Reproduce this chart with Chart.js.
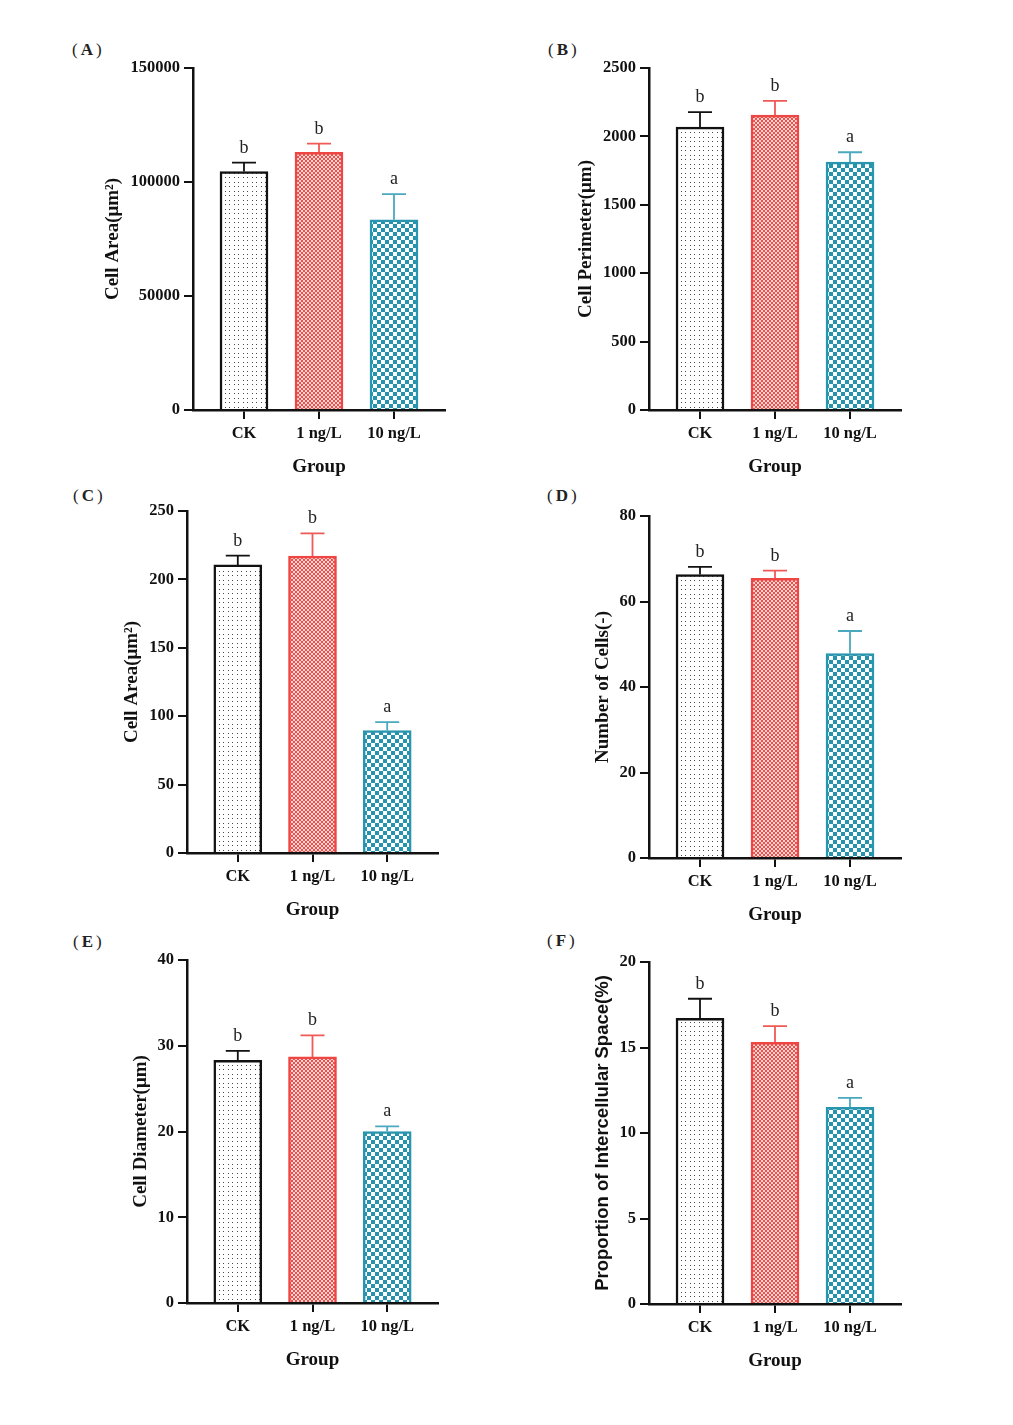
<!DOCTYPE html>
<html>
<head>
<meta charset="utf-8">
<script src="https://cdn.jsdelivr.net/npm/chart.js@4.4.0/dist/chart.umd.min.js"></script>
<style>
  html, body { margin: 0; padding: 0; background: #fff; }
  body { width: 1013px; height: 1425px; position: relative; overflow: hidden; }
  canvas.panel { position: absolute; }
  .lab { position: absolute; font-family: "Liberation Serif", "Times New Roman", serif; font-size: 17px; line-height: 20px; color: #222; letter-spacing: 3px; white-space: nowrap; }
  .lab b { font-weight: bold; }
</style>
</head>
<body>
<div class="lab" style="left:72px;top:40px">(<b>A</b>)</div>
<div class="lab" style="left:548px;top:40px">(<b>B</b>)</div>
<div class="lab" style="left:73px;top:486px">(<b>C</b>)</div>
<div class="lab" style="left:547px;top:486px">(<b>D</b>)</div>
<div class="lab" style="left:73px;top:932px">(<b>E</b>)</div>
<div class="lab" style="left:547px;top:931px">(<b>F</b>)</div>

<canvas class="panel" id="cA"></canvas>
<canvas class="panel" id="cB"></canvas>
<canvas class="panel" id="cC"></canvas>
<canvas class="panel" id="cD"></canvas>
<canvas class="panel" id="cE"></canvas>
<canvas class="panel" id="cF"></canvas>

<script>
// ---------------- DATA ----------------
const groups = ['CK', '1 ng/L', '10 ng/L'];
const sigLetters = ['b', 'b', 'a'];

const cellAreaA = [104600, 113000, 83400];
const cellAreaAErr = [3900, 3800, 11300];
const yTicksA = [0, 50000, 100000, 150000];

const cellPerimeter = [2068, 2155, 1812];
const cellPerimeterErr = [110, 105, 72];
const yTicksB = [0, 500, 1000, 1500, 2000, 2500];

const cellAreaC = [210.6, 217.1, 89.5];
const cellAreaCErr = [6.8, 16.6, 6.2];
const yTicksC = [0, 50, 100, 150, 200, 250];

const cellNumber = [66.3, 65.4, 47.8];
const cellNumberErr = [1.8, 1.8, 5.3];
const yTicksD = [0, 20, 40, 60, 80];

const cellDiameter = [28.3, 28.7, 20.0];
const cellDiameterErr = [1.1, 2.5, 0.6];
const yTicksE = [0, 10, 20, 30, 40];

const spaceProportion = [16.7, 15.3, 11.5];
const spaceProportionErr = [1.15, 0.95, 0.55];
const yTicksF = [0, 5, 10, 15, 20];

// ---------------- STYLE ----------------
const SERIF = '"Liberation Serif", "Times New Roman", serif';
const SANS = '"Liberation Sans", Arial, sans-serif';
Chart.defaults.font.family = SERIF;
Chart.defaults.color = '#111';

function makePattern(size, draw) {
  const c = document.createElement('canvas');
  c.width = size; c.height = size;
  const g = c.getContext('2d');
  draw(g);
  return g.createPattern(c, 'repeat');
}
const patCK = makePattern(9, g => {
  g.fillStyle = '#ffffff'; g.fillRect(0, 0, 9, 9);
  [[1,1],[5,1],[1,5],[5,5]].forEach(([x,y]) => {
    g.fillStyle = '#4a4a4a'; g.fillRect(x, y, 1, 1);
  });
});
const patRed = makePattern(4, g => {
  g.fillStyle = '#fbd6d4'; g.fillRect(0, 0, 4, 4);
  g.fillStyle = '#ef4f4b'; g.fillRect(0, 0, 2, 2); g.fillRect(2, 2, 2, 2);
});
const patTeal = makePattern(8, g => {
  g.fillStyle = '#ffffff'; g.fillRect(0, 0, 8, 8);
  g.fillStyle = '#2593ad'; g.fillRect(0, 0, 4, 4); g.fillRect(4, 4, 4, 4);
});
const fills = [patCK, patRed, patTeal];
const borders = ['#111111', '#ee4642', '#2a95ae'];
const errColors = ['#111111', '#ef5a56', '#4aa8bf'];

const errPlugin = {
  id: 'errLetters',
  afterDatasetsDraw(chart, args, opts) {
    const ctx = chart.ctx, x = chart.scales.x, y = chart.scales.y;
    const data = chart.data.datasets[0].data;
    ctx.save();
    data.forEach((d, i) => {
      const px = x.getPixelForValue(d.x);
      const yb = y.getPixelForValue(d.y);
      const yt = y.getPixelForValue(d.y + opts.errors[i]);
      ctx.strokeStyle = errColors[i];
      ctx.lineWidth = 1.8;
      ctx.beginPath();
      ctx.moveTo(px, yb); ctx.lineTo(px, yt);
      ctx.moveTo(px - 12, yt); ctx.lineTo(px + 12, yt);
      ctx.stroke();
      ctx.fillStyle = '#222';
      ctx.font = '18px ' + SERIF;
      ctx.textAlign = 'center';
      ctx.textBaseline = 'alphabetic';
      ctx.fillText(opts.letters[i], px, yt - 10);
    });
    ctx.restore();
  }
};

const panels = [
  { id: 'cA', values: cellAreaA, errors: cellAreaAErr, ticks: yTicksA, title: 'Cell Area(μm²)', tfont: SERIF, tsize: 19, tpad: 49, axisX: 193, top: 68, w: 252, h: 342 },
  { id: 'cB', values: cellPerimeter, errors: cellPerimeterErr, ticks: yTicksB, title: 'Cell Perimeter(μm)', tfont: SERIF, tsize: 19, tpad: 65.6, axisX: 649, top: 68, w: 252, h: 342 },
  { id: 'cC', values: cellAreaC, errors: cellAreaCErr, ticks: yTicksC, title: 'Cell Area(μm²)', tfont: SERIF, tsize: 19, tpad: 74, axisX: 187, top: 511, w: 251, h: 342 },
  { id: 'cD', values: cellNumber, errors: cellNumberErr, ticks: yTicksD, title: 'Number of Cells(-)', tfont: SERIF, tsize: 19, tpad: 82.6, axisX: 649, top: 516, w: 252, h: 342 },
  { id: 'cE', values: cellDiameter, errors: cellDiameterErr, ticks: yTicksE, title: 'Cell Diameter(μm)', tfont: SERIF, tsize: 19, tpad: 82.6, axisX: 187, top: 960, w: 251, h: 343 },
  { id: 'cF', values: spaceProportion, errors: spaceProportionErr, ticks: yTicksF, title: 'Proportion of Intercellular Space(%)', tfont: SANS, tsize: 18.5, tpad: 82.6, axisX: 649, top: 962, w: 252, h: 342 }
];

const LEFTW = 140, TOPP = 40, RIGHTP = 20, XH = 90;

panels.forEach(p => {
  const cv = document.getElementById(p.id);
  const W = LEFTW + p.w + RIGHTP, H = TOPP + p.h + XH;
  cv.width = W; cv.height = H;
  cv.style.width = W + 'px'; cv.style.height = H + 'px';
  cv.style.left = (p.axisX - LEFTW) + 'px';
  cv.style.top = (p.top - TOPP) + 'px';

  new Chart(cv, {
    type: 'bar',
    data: {
      datasets: [{
        data: p.values.map((v, i) => ({ x: i, y: v })),
        backgroundColor: fills,
        borderColor: borders,
        borderWidth: 2.5,
        borderSkipped: 'start',
        barThickness: 48
      }]
    },
    options: {
      responsive: false,
      animation: false,
      devicePixelRatio: 1,
      layout: { padding: { left: 0, top: TOPP, right: RIGHTP, bottom: 0 } },
      plugins: {
        legend: { display: false },
        tooltip: { enabled: false },
        errLetters: { errors: p.errors, letters: sigLetters }
      },
      scales: {
        x: {
          type: 'linear',
          min: -0.68, max: 2.68,
          offset: false,
          z: 1,
          afterBuildTicks: s => { s.ticks = groups.map((g, i) => ({ value: i })); },
          afterFit: s => { s.height = XH; },
          grid: { display: true, offset: false, drawOnChartArea: false, drawTicks: true, tickLength: 9, color: '#111', lineWidth: 2 },
          border: { display: true, color: '#111', width: 2.5 },
          ticks: { callback: v => groups[v], font: { size: 16.5, weight: 'bold' }, color: '#111', padding: 5, maxRotation: 0, autoSkip: false },
          title: { display: true, text: 'Group', font: { size: 19, weight: 'bold' }, color: '#111', padding: { top: 0, bottom: 21.6 } }
        },
        y: {
          min: 0, max: p.ticks[p.ticks.length - 1],
          afterBuildTicks: s => { s.ticks = p.ticks.map(v => ({ value: v })); },
          afterFit: s => { s.width = LEFTW; },
          grid: { display: true, drawOnChartArea: false, drawTicks: true, tickLength: 9, color: '#111', lineWidth: 2 },
          border: { display: true, color: '#111', width: 2.5 },
          ticks: { callback: v => String(v), font: { size: 16.5, weight: 'bold' }, color: '#111', padding: 4 },
          title: { display: true, text: p.title, font: { family: p.tfont, size: p.tsize, weight: 'bold' }, color: '#111', padding: { top: p.tpad, bottom: 0 } }
        }
      }
    },
    plugins: [errPlugin]
  });
});
</script>
</body>
</html>
